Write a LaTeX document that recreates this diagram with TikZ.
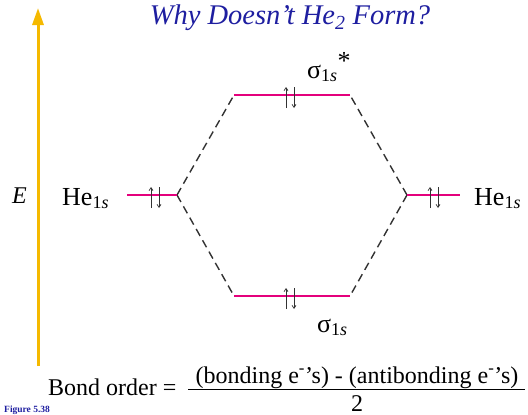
\documentclass[tikz,border=0pt]{standalone}
\usepackage{fontspec}
\setmainfont{Liberation Serif}
\usetikzlibrary{arrows.meta,calc}
\definecolor{titleblue}{RGB}{30,30,160}
\definecolor{lvlpink}{RGB}{228,0,124}
\definecolor{axisyellow}{RGB}{245,185,0}
\definecolor{dashgray}{RGB}{50,50,50}
\tikzset{
  level/.style={draw=lvlpink,line width=2.2pt},
  corr/.style={draw=dashgray,line width=1.4pt,dash pattern=on 8pt off 5pt},
  spin/.style={draw=dashgray,line width=0.7pt},
  lbl/.style={inner sep=0pt,anchor=base west,font=\fontsize{26}{28}\selectfont},
  eqtext/.style={inner sep=0pt,font=\fontsize{24}{28}\selectfont},
}
\newcommand{\sub}[1]{\textsubscript{\fontsize{18}{19}\selectfont #1}}
\newcommand{\pairspin}[1]{%
  \draw[spin,-{Straight Barb[length=3pt,width=4pt]}] ($(#1)+(-4,13)$) -- ($(#1)+(-4,-8)$);
  \draw[spin,-{Straight Barb[length=3pt,width=4pt]}] ($(#1)+(4,-8)$) -- ($(#1)+(4,13)$);}
\begin{document}
\begin{tikzpicture}[x=1pt,y=-1pt]
\useasboundingbox (0,0) rectangle (528,415);
% title
\node[inner sep=0pt,text=titleblue,font=\fontsize{28.5}{30}\selectfont\itshape] (title) at (290,18) {Why Doesn't He\textsubscript{2} Form?};
% energy axis
\coordinate (ax0) at (38,366);
\coordinate (ax1) at (38,8);
\draw[draw=axisyellow,line width=3pt,-{Triangle[length=17pt,width=11pt]}] (ax0) -- (ax1);
\node[lbl,font=\fontsize{24}{28}\selectfont\itshape] (E) at (12,203) {E};
% levels
\coordinate (Ll) at (127,195); \coordinate (Lr) at (177,195);
\coordinate (Rl) at (407,195); \coordinate (Rr) at (460,195);
\coordinate (Tl) at (234,95);  \coordinate (Tr) at (350,95);
\coordinate (Bl) at (234,296); \coordinate (Br) at (350,296);
\draw[corr] (Lr) -- (Tl);
\draw[corr] (Lr) -- (Bl);
\draw[corr] (Rl) -- (Tr);
\draw[corr] (Rl) -- (Br);
\draw[level] (Ll) -- (Lr);
\draw[level] (Rl) -- (Rr);
\draw[level] (Tl) -- (Tr);
\draw[level] (Bl) -- (Br);
\coordinate (sL) at (155,195);
\coordinate (sR) at (434,195);
\coordinate (sT) at (290,95);
\coordinate (sB) at (290,296);
\pairspin{sL}
\pairspin{sR}
\pairspin{sT}
\pairspin{sB}
% labels
\node[lbl] (heL) at (62,205) {He\sub{1\textit{s}}};
\node[lbl] (heR) at (474,205) {He\sub{1\textit{s}}};
\node[lbl] (sigS) at (307,78) {σ\sub{1\textit{s}}\raisebox{9pt}{*}};
\node[lbl] (sig) at (317,332) {σ\sub{1\textit{s}}};
% bond order
\node[eqtext,anchor=base west] (bo) at (48,395) {Bond order =};
\node[eqtext,anchor=base] (num) at (357,383) {(bonding e\textsuperscript{-}'s) - (antibonding e\textsuperscript{-}'s)};
\coordinate (barL) at (188,389);
\coordinate (barR) at (525,389);
\draw[line width=0.8pt] (barL) -- (barR);
\node[eqtext,anchor=base] (den) at (357,411) {2};
\node[inner sep=0pt,anchor=base west,text=titleblue,font=\fontsize{9.5}{10}\selectfont\bfseries] (fig) at (4,412) {Figure 5.38};
\end{tikzpicture}
\end{document}
